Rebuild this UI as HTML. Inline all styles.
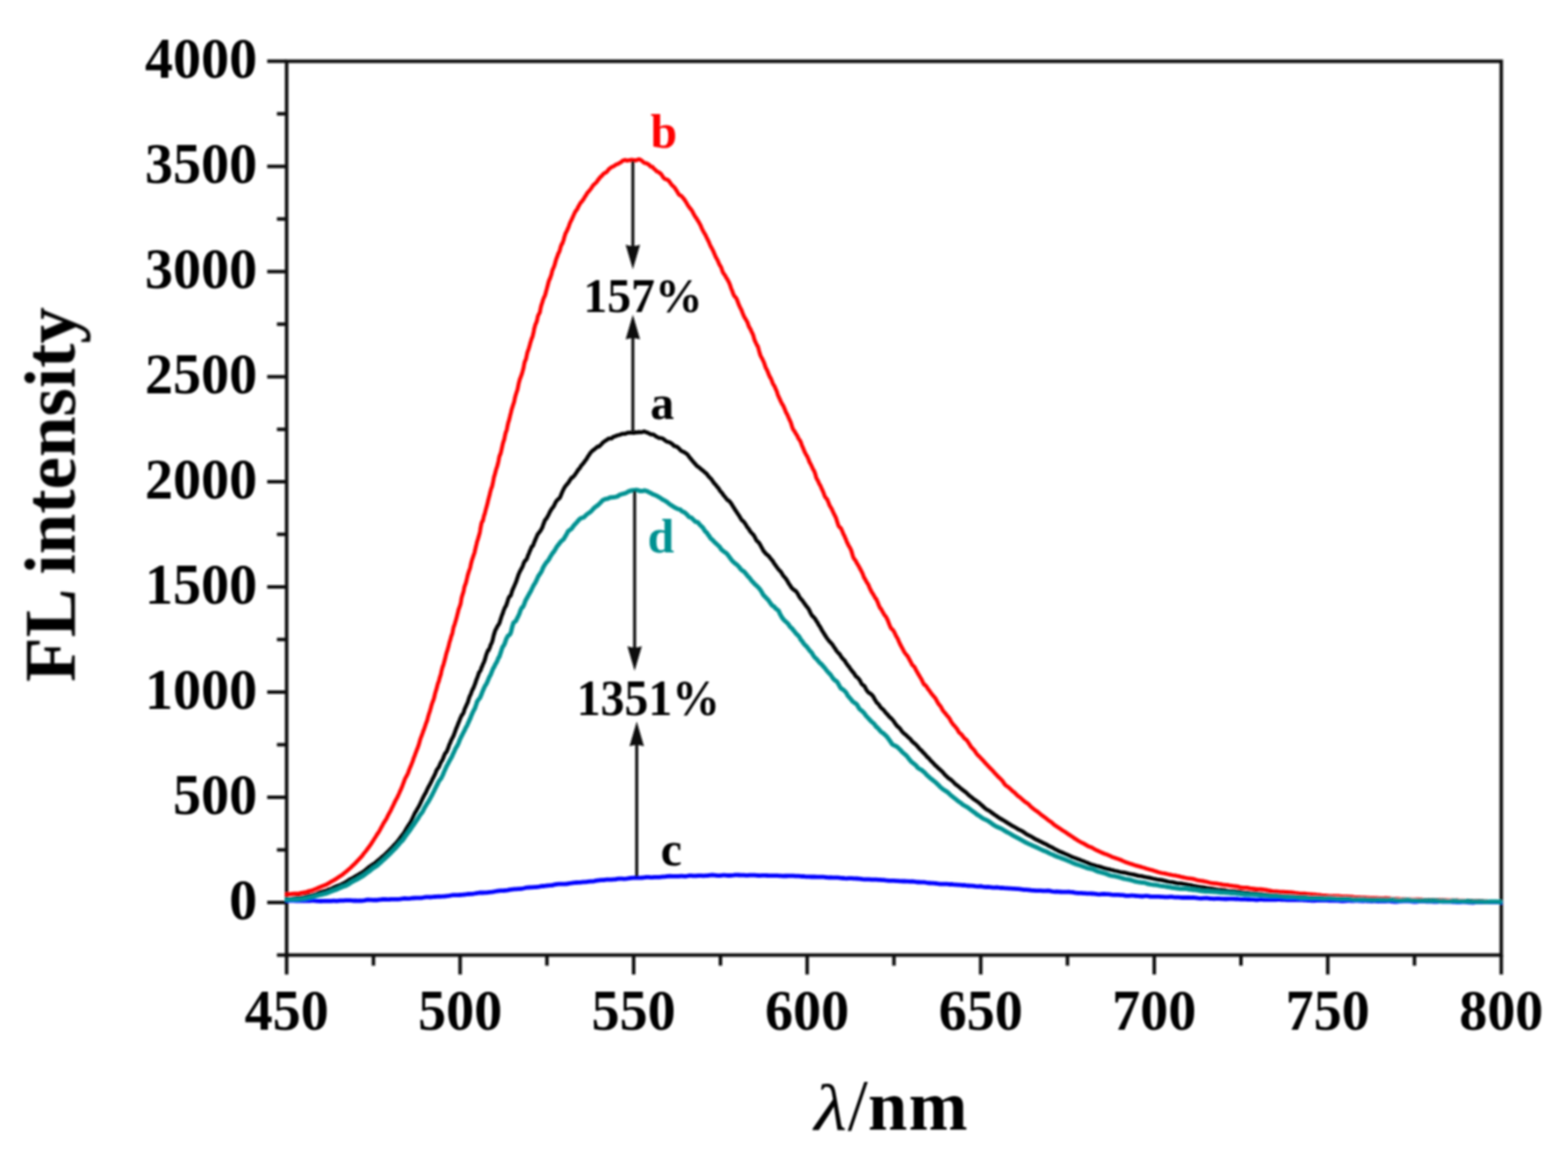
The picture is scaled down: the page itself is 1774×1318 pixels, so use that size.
<!DOCTYPE html>
<html><head><meta charset="utf-8"><title>FL intensity spectra</title>
<style>html,body{margin:0;padding:0;background:#fff;}svg{display:block;}</style>
</head><body>
<svg width="1774" height="1318" viewBox="0 0 1774 1318">
<defs><filter id="soft" filterUnits="userSpaceOnUse" x="0" y="0" width="1774" height="1318"><feGaussianBlur stdDeviation="0.8"/></filter></defs>
<rect width="1774" height="1318" fill="#fff"/>
<g filter="url(#soft)">
<rect x="324.3" y="69.3" width="1374.2" height="1011.2" fill="none" stroke="#111" stroke-width="4"/>
<path d="M313.3,1080.5H324.3 M302.3,1021.0H324.3 M313.3,961.5H324.3 M302.3,902.0H324.3 M313.3,842.6H324.3 M302.3,783.1H324.3 M313.3,723.6H324.3 M302.3,664.1H324.3 M313.3,604.6H324.3 M302.3,545.1H324.3 M313.3,485.7H324.3 M302.3,426.2H324.3 M313.3,366.7H324.3 M302.3,307.2H324.3 M313.3,247.7H324.3 M302.3,188.3H324.3 M313.3,128.8H324.3 M302.3,69.3H324.3 M324.3,1080.5V1102.5 M422.5,1080.5V1092.5 M520.6,1080.5V1102.5 M618.8,1080.5V1092.5 M716.9,1080.5V1102.5 M815.1,1080.5V1092.5 M913.2,1080.5V1102.5 M1011.4,1080.5V1092.5 M1109.6,1080.5V1102.5 M1207.7,1080.5V1092.5 M1305.9,1080.5V1102.5 M1404.0,1080.5V1092.5 M1502.2,1080.5V1102.5 M1600.3,1080.5V1092.5 M1698.5,1080.5V1102.5" stroke="#111" stroke-width="4" fill="none"/>
<g font-family="Liberation Serif, serif" font-weight="bold" font-size="63.5" fill="#000"><text transform="translate(291,1039.6) scale(1,1.045)" text-anchor="end">0</text><text transform="translate(291,920.6) scale(1,1.045)" text-anchor="end">500</text><text transform="translate(291,801.7) scale(1,1.045)" text-anchor="end">1000</text><text transform="translate(291,682.7) scale(1,1.045)" text-anchor="end">1500</text><text transform="translate(291,563.8) scale(1,1.045)" text-anchor="end">2000</text><text transform="translate(291,444.8) scale(1,1.045)" text-anchor="end">2500</text><text transform="translate(291,325.8) scale(1,1.045)" text-anchor="end">3000</text><text transform="translate(291,206.9) scale(1,1.045)" text-anchor="end">3500</text><text transform="translate(291,87.9) scale(1,1.045)" text-anchor="end">4000</text><text transform="translate(324.3,1165) scale(1,1.045)" text-anchor="middle">450</text><text transform="translate(520.6,1165) scale(1,1.045)" text-anchor="middle">500</text><text transform="translate(716.9,1165) scale(1,1.045)" text-anchor="middle">550</text><text transform="translate(913.2,1165) scale(1,1.045)" text-anchor="middle">600</text><text transform="translate(1109.6,1165) scale(1,1.045)" text-anchor="middle">650</text><text transform="translate(1305.9,1165) scale(1,1.045)" text-anchor="middle">700</text><text transform="translate(1502.2,1165) scale(1,1.045)" text-anchor="middle">750</text><text transform="translate(1698.5,1165) scale(1,1.045)" text-anchor="middle">800</text></g>
<text transform="translate(84.5,771.5) rotate(-90)" font-family="Liberation Serif, serif" font-weight="bold" font-size="82.5" fill="#000">FL intensity</text>
<g font-family="Liberation Serif, serif" fill="#000"><text transform="translate(921.2,1277.5) scale(1.15,1)" font-style="italic" font-size="74">λ</text><text x="959" y="1277.5" font-size="82">/</text><text x="982" y="1277.5" font-weight="bold" font-size="80">n</text><text x="1028" y="1277.5" font-weight="bold" font-size="80">m</text></g>
<g fill="none" stroke-width="4.5" stroke-linejoin="round" stroke-linecap="round"><path d="M324.2,1011.8 L326.3,1011.7 L328.4,1011.5 L330.5,1011.3 L332.6,1011.1 L334.6,1011.0 L336.7,1010.9 L338.7,1010.7 L340.7,1010.3 L342.7,1009.9 L344.7,1009.5 L346.7,1009.1 L348.6,1008.5 L350.6,1007.9 L352.5,1007.4 L354.4,1006.8 L356.3,1006.0 L358.2,1005.2 L360.1,1004.3 L361.9,1003.6 L363.8,1002.8 L365.6,1002.2 L367.4,1001.4 L369.2,1000.8 L370.9,999.8 L372.7,998.8 L374.4,997.6 L376.1,996.7 L377.8,995.8 L379.5,994.8 L381.2,993.6 L382.8,992.5 L384.5,991.4 L386.1,990.3 L387.7,989.3 L389.2,988.0 L390.8,986.8 L392.3,985.6 L393.8,984.2 L395.3,982.9 L396.8,981.6 L398.2,980.2 L399.6,978.8 L401.1,977.5 L402.4,976.2 L403.8,974.6 L405.2,973.2 L406.5,971.8 L407.8,970.4 L409.1,969.0 L410.4,967.4 L411.6,965.6 L412.9,964.1 L414.1,962.6 L415.3,961.0 L416.5,959.5 L417.6,957.9 L418.8,956.3 L419.9,954.7 L421.1,952.8 L422.2,951.1 L423.3,949.3 L424.4,947.6 L425.5,945.8 L426.5,944.2 L427.6,942.7 L428.6,941.1 L429.7,939.4 L430.7,937.3 L431.7,935.5 L432.7,933.8 L433.7,931.8 L434.7,930.3 L435.6,928.7 L436.6,927.3 L437.6,925.5 L438.5,923.5 L439.5,921.6 L440.4,919.9 L441.3,918.4 L442.3,916.4 L443.2,914.6 L444.1,912.8 L445.0,910.9 L445.9,909.0 L446.8,907.0 L447.6,905.4 L448.5,903.8 L449.4,902.3 L450.2,900.5 L451.1,898.6 L451.9,896.8 L452.7,894.8 L453.6,893.2 L454.4,891.2 L455.2,889.3 L456.0,887.0 L456.8,885.1 L457.6,882.7 L458.4,880.8 L459.2,879.3 L460.0,877.9 L460.7,876.5 L461.5,875.0 L462.3,872.7 L463.0,870.7 L463.8,868.9 L464.5,867.2 L465.3,865.3 L466.0,863.5 L466.7,861.7 L467.4,859.7 L468.1,857.5 L468.9,855.6 L469.6,853.7 L470.3,851.7 L471.0,850.1 L471.6,848.2 L472.3,846.8 L473.0,844.8 L473.7,842.8 L474.4,840.4 L475.0,838.2 L475.7,835.9 L476.3,834.1 L477.0,832.6 L477.7,830.4 L478.3,829.1 L478.9,826.8 L479.6,825.6 L480.2,823.6 L480.8,822.0 L481.5,819.9 L482.1,818.0 L482.7,816.8 L483.3,815.1 L483.9,812.8 L484.5,810.3 L485.1,808.3 L485.7,806.3 L486.3,804.9 L486.9,802.6 L487.5,800.6 L488.1,798.2 L488.7,796.4 L489.3,794.6 L489.8,793.6 L490.4,791.7 L491.0,790.0 L491.6,787.6 L492.1,785.2 L492.7,783.2 L493.3,781.2 L493.8,779.5 L494.4,777.4 L494.9,775.2 L495.5,773.2 L496.0,771.7 L496.6,770.5 L497.1,768.1 L497.7,766.2 L498.2,764.5 L498.8,762.9 L499.3,760.1 L499.8,758.0 L500.4,755.8 L500.9,753.9 L501.5,752.8 L502.0,751.0 L502.5,749.2 L503.1,746.9 L503.6,745.2 L504.1,742.9 L504.6,740.8 L505.2,738.6 L505.7,736.9 L506.2,735.9 L506.7,733.8 L507.3,732.0 L507.8,729.7 L508.3,727.8 L508.8,725.8 L509.4,724.2 L509.9,722.2 L510.4,720.4 L510.9,718.8 L511.5,717.5 L512.0,715.4 L512.5,712.9 L513.0,710.3 L513.6,708.3 L514.1,707.2 L514.6,705.6 L515.1,703.7 L515.7,701.9 L516.2,700.2 L516.7,698.3 L517.2,696.3 L517.8,693.8 L518.3,692.1 L518.8,689.5 L519.4,688.3 L519.9,686.6 L520.4,685.3 L521.0,683.6 L521.5,680.9 L522.0,677.6 L522.6,675.0 L523.1,673.6 L523.6,671.7 L524.2,670.1 L524.7,667.9 L525.2,665.1 L525.8,662.9 L526.3,661.8 L526.8,660.3 L527.4,658.5 L527.9,656.2 L528.5,653.8 L529.0,651.5 L529.5,649.7 L530.1,647.8 L530.6,646.0 L531.1,644.9 L531.7,643.1 L532.2,641.2 L532.7,638.6 L533.3,636.4 L533.8,634.3 L534.3,632.6 L534.9,631.2 L535.4,629.3 L535.9,628.2 L536.4,626.5 L537.0,625.0 L537.5,622.1 L538.0,620.5 L538.5,617.9 L539.1,615.8 L539.6,613.4 L540.1,611.8 L540.6,610.5 L541.1,608.6 L541.7,606.8 L542.2,604.8 L542.7,603.0 L543.2,600.3 L543.7,597.2 L544.2,594.7 L544.7,592.2 L545.3,590.4 L545.8,589.9 L546.3,589.2 L546.8,587.1 L547.3,584.7 L547.8,582.8 L548.3,581.7 L548.8,579.8 L549.3,577.8 L549.8,575.8 L550.3,574.0 L550.8,572.4 L551.3,570.3 L551.9,568.1 L552.4,565.5 L552.9,564.0 L553.4,561.8 L553.9,560.3 L554.4,557.6 L554.9,555.8 L555.4,554.0 L555.9,552.3 L556.4,551.5 L556.9,549.7 L557.4,547.3 L557.9,545.0 L558.4,542.4 L558.9,539.6 L559.4,538.3 L559.9,536.5 L560.4,534.7 L560.9,532.4 L561.4,530.8 L561.9,529.3 L562.4,528.0 L562.9,526.1 L563.4,524.1 L563.9,522.2 L564.4,519.3 L564.9,517.1 L565.4,515.0 L565.9,514.5 L566.4,513.0 L566.9,511.2 L567.4,508.8 L567.9,506.5 L568.4,504.2 L568.9,502.0 L569.4,500.3 L569.9,498.8 L570.4,497.4 L570.9,495.1 L571.4,492.6 L571.9,490.3 L572.4,488.6 L573.0,487.5 L573.5,485.4 L574.0,483.0 L574.5,480.4 L575.0,478.3 L575.5,476.8 L576.0,475.3 L576.5,473.1 L577.0,471.1 L577.5,468.8 L578.1,466.8 L578.6,464.3 L579.1,462.8 L579.6,460.9 L580.1,459.7 L580.6,457.8 L581.1,456.4 L581.7,454.6 L582.2,452.1 L582.7,449.8 L583.2,447.8 L583.8,445.9 L584.3,444.1 L584.8,442.8 L585.3,441.4 L585.9,438.7 L586.4,436.3 L586.9,433.7 L587.4,431.9 L588.0,429.7 L588.5,428.0 L589.0,427.0 L589.6,425.1 L590.1,424.0 L590.6,422.3 L591.2,420.3 L591.7,418.4 L592.3,416.5 L592.8,413.5 L593.3,410.9 L593.9,408.7 L594.4,407.7 L595.0,406.5 L595.5,404.3 L596.1,401.4 L596.6,399.1 L597.2,397.3 L597.7,395.9 L598.3,394.1 L598.8,392.3 L599.4,390.3 L599.9,388.3 L600.5,386.4 L601.0,384.6 L601.6,383.0 L602.2,381.6 L602.7,380.1 L603.3,377.5 L603.9,374.9 L604.4,371.9 L605.0,370.0 L605.6,367.5 L606.1,366.2 L606.7,365.3 L607.3,363.5 L607.9,361.1 L608.4,358.3 L609.0,356.7 L609.6,355.4 L610.2,354.6 L610.8,353.3 L611.3,350.4 L611.9,347.6 L612.5,345.2 L613.1,343.5 L613.7,341.7 L614.3,339.5 L614.9,338.0 L615.5,336.3 L616.1,335.5 L616.7,333.8 L617.3,331.9 L617.9,329.3 L618.5,327.3 L619.1,325.0 L619.7,322.8 L620.3,320.4 L620.9,318.2 L621.5,316.5 L622.1,315.5 L622.7,313.9 L623.3,312.1 L624.0,310.0 L624.6,307.1 L625.2,305.4 L625.8,303.9 L626.4,302.6 L627.1,300.7 L627.7,299.0 L628.3,296.6 L629.0,294.2 L629.6,292.4 L630.2,290.9 L630.9,289.2 L631.5,286.9 L632.2,286.1 L632.9,284.4 L633.5,282.7 L634.2,279.8 L634.9,277.9 L635.6,276.0 L636.3,275.6 L637.0,273.2 L637.7,271.6 L638.4,268.5 L639.1,266.4 L639.8,264.0 L640.6,262.6 L641.3,261.4 L642.1,259.4 L642.8,258.1 L643.6,255.9 L644.4,253.5 L645.2,251.6 L646.1,249.8 L646.9,248.2 L647.7,246.3 L648.6,244.3 L649.5,242.4 L650.4,240.4 L651.3,238.9 L652.2,237.6 L653.2,236.3 L654.2,234.0 L655.2,232.3 L656.2,230.5 L657.2,229.0 L658.3,228.1 L659.3,226.3 L660.4,225.2 L661.5,222.9 L662.7,221.3 L663.8,219.3 L665.0,217.7 L666.2,216.5 L667.4,214.9 L668.7,213.4 L669.9,211.4 L671.2,209.5 L672.5,208.3 L673.8,207.1 L675.2,205.9 L676.5,203.6 L677.9,202.1 L679.3,200.1 L680.8,199.1 L682.2,197.2 L683.7,196.0 L685.2,195.2 L686.7,194.3 L688.2,192.2 L689.7,190.7 L691.3,189.5 L692.9,188.6 L694.5,188.0 L696.1,186.8 L697.7,185.9 L699.3,185.4 L701.0,184.3 L702.7,183.5 L704.3,181.9 L706.0,181.3 L707.7,180.9 L709.4,181.8 L711.1,181.3 L712.8,181.2 L714.5,180.8 L716.2,181.1 L717.9,181.2 L719.6,181.6 L721.3,180.6 L723.0,180.2 L724.7,180.8 L726.4,182.0 L728.1,183.7 L729.8,184.6 L731.5,184.8 L733.1,185.7 L734.8,186.9 L736.4,188.6 L738.1,188.7 L739.7,190.8 L741.3,191.8 L742.9,193.8 L744.5,194.3 L746.0,195.5 L747.6,196.5 L749.1,198.6 L750.6,201.0 L752.1,202.3 L753.6,202.8 L755.1,203.4 L756.5,204.4 L758.0,206.4 L759.3,208.3 L760.7,209.9 L762.1,211.2 L763.4,212.4 L764.7,214.4 L766.0,216.5 L767.3,218.8 L768.5,220.4 L769.7,221.0 L771.0,221.8 L772.1,223.1 L773.3,224.5 L774.5,226.0 L775.6,227.8 L776.7,229.4 L777.8,231.6 L778.9,233.2 L780.0,234.8 L781.0,236.0 L782.1,237.3 L783.1,238.7 L784.1,240.7 L785.1,242.6 L786.1,244.4 L787.1,246.0 L788.1,247.1 L789.0,248.9 L790.0,250.3 L791.0,252.0 L791.9,253.7 L792.8,255.3 L793.8,257.8 L794.7,259.8 L795.6,261.6 L796.5,263.1 L797.4,264.6 L798.3,266.2 L799.2,268.2 L800.1,269.9 L801.0,271.9 L801.9,273.5 L802.8,275.8 L803.6,277.6 L804.5,279.5 L805.4,280.9 L806.3,282.9 L807.1,284.2 L808.0,286.7 L808.9,288.7 L809.7,290.6 L810.6,292.2 L811.5,293.7 L812.4,295.6 L813.2,297.8 L814.1,299.5 L815.0,301.0 L815.9,302.4 L816.8,305.1 L817.6,307.4 L818.5,309.2 L819.4,310.4 L820.3,311.4 L821.2,313.4 L822.0,314.7 L822.9,315.8 L823.8,317.9 L824.7,319.3 L825.6,321.5 L826.4,323.8 L827.3,326.6 L828.2,328.5 L829.0,330.9 L829.9,333.3 L830.8,335.0 L831.7,335.8 L832.5,336.7 L833.4,338.0 L834.2,340.1 L835.1,342.6 L835.9,344.8 L836.8,346.6 L837.6,348.5 L838.5,349.8 L839.3,351.8 L840.1,354.1 L841.0,356.2 L841.8,358.1 L842.6,359.5 L843.4,360.7 L844.2,362.1 L845.0,363.4 L845.8,365.0 L846.6,367.7 L847.4,369.5 L848.2,371.2 L849.0,372.2 L849.8,374.2 L850.6,375.7 L851.3,377.3 L852.1,378.9 L852.9,381.8 L853.6,384.4 L854.4,386.3 L855.2,387.9 L855.9,389.4 L856.7,391.0 L857.4,391.9 L858.2,394.6 L858.9,397.3 L859.7,400.0 L860.4,402.3 L861.2,403.8 L862.0,405.2 L862.7,406.6 L863.5,408.3 L864.2,409.7 L865.0,412.0 L865.7,414.3 L866.5,416.5 L867.3,417.6 L868.0,419.2 L868.8,421.0 L869.6,423.4 L870.4,424.9 L871.1,426.8 L871.9,427.6 L872.7,429.5 L873.5,431.5 L874.3,433.8 L875.1,435.3 L875.9,436.2 L876.7,437.9 L877.5,439.8 L878.3,441.6 L879.1,443.5 L879.9,446.3 L880.8,448.3 L881.6,450.3 L882.4,451.7 L883.2,453.9 L884.1,455.4 L884.9,457.3 L885.8,458.3 L886.6,459.9 L887.4,462.0 L888.3,463.9 L889.1,466.2 L890.0,467.8 L890.8,469.2 L891.7,471.3 L892.5,473.1 L893.4,475.3 L894.2,476.8 L895.1,479.1 L895.9,482.0 L896.8,484.6 L897.7,486.3 L898.5,487.3 L899.4,488.7 L900.2,490.4 L901.1,491.6 L902.0,493.0 L902.8,494.9 L903.7,496.6 L904.6,497.7 L905.4,499.0 L906.3,501.0 L907.1,503.6 L908.0,505.5 L908.9,507.7 L909.7,509.7 L910.6,511.8 L911.4,513.3 L912.3,515.0 L913.2,516.2 L914.0,518.1 L914.9,520.0 L915.7,522.5 L916.6,524.0 L917.4,525.5 L918.3,527.4 L919.1,529.2 L920.0,531.1 L920.8,532.1 L921.7,534.3 L922.6,537.0 L923.4,540.2 L924.2,541.8 L925.1,543.4 L925.9,545.2 L926.8,547.2 L927.6,548.4 L928.5,550.0 L929.3,552.2 L930.2,553.9 L931.0,555.8 L931.8,557.6 L932.7,560.3 L933.5,562.2 L934.4,563.2 L935.2,564.3 L936.0,565.1 L936.9,567.5 L937.7,569.4 L938.5,571.7 L939.4,573.2 L940.2,574.5 L941.0,575.7 L941.9,577.9 L942.7,579.5 L943.5,581.5 L944.4,582.9 L945.2,584.8 L946.0,586.3 L946.9,589.5 L947.7,591.9 L948.5,594.4 L949.4,596.0 L950.2,596.6 L951.0,597.1 L951.9,598.6 L952.7,600.5 L953.6,602.7 L954.4,604.7 L955.3,606.0 L956.1,608.3 L957.0,609.9 L957.8,612.4 L958.7,614.2 L959.5,616.0 L960.4,617.7 L961.3,619.1 L962.1,620.7 L963.0,622.5 L963.9,625.5 L964.8,628.7 L965.7,631.1 L966.5,632.4 L967.4,633.6 L968.3,634.7 L969.2,636.8 L970.1,638.0 L971.0,639.7 L971.9,641.1 L972.8,643.0 L973.7,644.5 L974.6,646.2 L975.5,648.0 L976.5,650.4 L977.4,653.1 L978.3,654.4 L979.2,656.1 L980.1,657.7 L981.0,659.4 L982.0,660.6 L982.9,662.7 L983.8,664.9 L984.7,666.9 L985.7,668.7 L986.6,670.6 L987.5,671.6 L988.5,673.5 L989.4,674.9 L990.3,676.9 L991.3,677.5 L992.2,679.6 L993.1,681.6 L994.1,684.4 L995.0,686.3 L995.9,688.2 L996.9,688.9 L997.8,690.9 L998.7,692.4 L999.7,694.1 L1000.6,695.7 L1001.5,696.7 L1002.5,697.9 L1003.4,699.9 L1004.4,701.7 L1005.3,704.2 L1006.3,706.8 L1007.2,709.0 L1008.2,710.9 L1009.1,711.7 L1010.1,712.5 L1011.0,713.9 L1012.0,715.7 L1012.9,717.7 L1013.9,719.8 L1014.9,721.3 L1015.8,722.8 L1016.8,725.4 L1017.8,727.4 L1018.7,729.5 L1019.7,731.2 L1020.7,733.2 L1021.7,734.9 L1022.7,737.0 L1023.7,738.5 L1024.7,739.9 L1025.7,741.1 L1026.7,742.1 L1027.7,744.0 L1028.7,745.7 L1029.7,747.8 L1030.7,749.4 L1031.8,751.8 L1032.8,752.8 L1033.8,753.7 L1034.9,755.0 L1035.9,757.1 L1037.0,759.2 L1038.0,760.9 L1039.1,762.9 L1040.2,764.5 L1041.2,766.5 L1042.3,768.0 L1043.4,770.4 L1044.5,772.7 L1045.6,774.7 L1046.7,775.0 L1047.8,776.3 L1048.9,777.6 L1050.0,779.7 L1051.2,780.9 L1052.3,782.6 L1053.4,784.2 L1054.6,785.6 L1055.7,787.0 L1056.9,788.4 L1058.1,789.7 L1059.2,791.7 L1060.4,793.9 L1061.6,796.0 L1062.8,797.5 L1064.0,798.8 L1065.2,800.9 L1066.4,803.2 L1067.6,804.9 L1068.8,806.3 L1070.0,807.6 L1071.2,809.3 L1072.4,810.5 L1073.7,812.1 L1074.9,814.0 L1076.1,816.5 L1077.4,818.2 L1078.6,820.0 L1079.8,821.0 L1081.1,822.7 L1082.3,824.1 L1083.6,826.1 L1084.8,828.3 L1086.1,829.5 L1087.4,830.5 L1088.6,832.0 L1089.9,833.7 L1091.1,835.3 L1092.4,836.2 L1093.7,837.3 L1094.9,839.1 L1096.2,841.1 L1097.5,843.0 L1098.7,845.0 L1100.0,846.3 L1101.3,847.7 L1102.5,849.0 L1103.8,851.1 L1105.1,853.0 L1106.4,854.3 L1107.7,855.6 L1109.0,856.8 L1110.3,858.4 L1111.5,859.4 L1112.8,861.0 L1114.1,862.5 L1115.5,864.1 L1116.8,865.3 L1118.1,866.8 L1119.4,868.1 L1120.7,869.5 L1122.1,870.8 L1123.4,872.2 L1124.8,873.8 L1126.1,875.4 L1127.5,876.7 L1128.8,878.1 L1130.2,879.6 L1131.6,880.7 L1133.0,882.3 L1134.4,883.8 L1135.8,886.0 L1137.2,887.8 L1138.6,889.1 L1140.0,889.9 L1141.5,891.1 L1142.9,892.4 L1144.4,893.7 L1145.8,895.2 L1147.3,896.1 L1148.8,897.8 L1150.3,899.1 L1151.8,900.6 L1153.3,901.6 L1154.8,902.8 L1156.3,904.2 L1157.8,905.6 L1159.3,906.8 L1160.9,907.9 L1162.4,908.9 L1163.9,910.0 L1165.5,911.8 L1167.0,913.2 L1168.6,914.5 L1170.1,915.7 L1171.7,916.9 L1173.3,917.9 L1174.9,919.1 L1176.4,920.4 L1178.0,921.8 L1179.6,922.8 L1181.2,924.2 L1182.8,925.2 L1184.3,926.4 L1185.9,927.8 L1187.5,928.8 L1189.1,929.9 L1190.7,931.3 L1192.3,932.7 L1193.9,934.0 L1195.6,935.0 L1197.2,936.1 L1198.8,937.2 L1200.4,938.2 L1202.0,939.4 L1203.7,940.4 L1205.3,941.4 L1207.0,942.5 L1208.6,943.7 L1210.3,944.7 L1211.9,945.8 L1213.6,946.9 L1215.3,948.2 L1217.0,949.2 L1218.7,950.3 L1220.3,951.4 L1222.1,952.4 L1223.8,953.4 L1225.5,954.0 L1227.2,955.0 L1228.9,956.0 L1230.7,957.1 L1232.4,957.8 L1234.2,958.4 L1235.9,959.2 L1237.7,960.3 L1239.4,961.3 L1241.2,962.2 L1243.0,962.9 L1244.8,963.8 L1246.6,964.6 L1248.3,965.3 L1250.1,966.1 L1252.0,966.6 L1253.8,967.5 L1255.6,968.2 L1257.4,969.1 L1259.2,969.8 L1261.1,970.4 L1262.9,971.2 L1264.7,971.7 L1266.6,972.4 L1268.4,973.0 L1270.3,974.0 L1272.1,974.8 L1274.0,975.6 L1275.9,976.2 L1277.7,976.8 L1279.6,977.4 L1281.5,978.0 L1283.4,978.7 L1285.3,979.3 L1287.2,979.7 L1289.1,980.3 L1291.0,980.8 L1292.9,981.4 L1294.8,981.9 L1296.7,982.6 L1298.6,983.1 L1300.5,983.7 L1302.4,984.1 L1304.3,984.7 L1306.3,985.3 L1308.2,985.9 L1310.1,986.6 L1312.1,987.1 L1314.0,987.6 L1315.9,987.9 L1317.9,988.2 L1319.8,988.6 L1321.8,989.1 L1323.7,989.5 L1325.7,989.9 L1327.6,990.2 L1329.6,990.4 L1331.5,990.9 L1333.5,991.2 L1335.4,991.9 L1337.4,992.3 L1339.4,992.7 L1341.3,993.1 L1343.3,993.5 L1345.3,993.7 L1347.2,993.9 L1349.2,994.3 L1351.2,994.7 L1353.1,995.3 L1355.1,996.0 L1357.1,996.2 L1359.0,996.6 L1361.0,996.8 L1363.0,997.3 L1365.0,997.6 L1366.9,998.1 L1368.9,998.6 L1370.9,999.0 L1372.9,999.2 L1374.8,999.4 L1376.8,999.6 L1378.8,1000.0 L1380.8,1000.3 L1382.8,1000.8 L1384.7,1001.0 L1386.7,1001.3 L1388.7,1001.3 L1390.7,1001.7 L1392.7,1002.0 L1394.6,1002.3 L1396.6,1002.4 L1398.6,1002.7 L1400.6,1003.0 L1402.6,1003.6 L1404.5,1004.1 L1406.5,1004.2 L1408.5,1004.2 L1410.5,1004.3 L1412.5,1004.6 L1414.5,1005.0 L1416.5,1005.2 L1418.4,1005.5 L1420.4,1005.8 L1422.4,1006.1 L1424.4,1006.1 L1426.4,1006.1 L1428.4,1006.2 L1430.4,1006.5 L1432.3,1006.7 L1434.3,1007.2 L1436.3,1007.5 L1438.3,1008.0 L1440.3,1008.3 L1442.3,1008.5 L1444.3,1008.5 L1446.3,1008.7 L1448.3,1008.9 L1450.2,1008.9 L1452.2,1009.0 L1454.2,1009.2 L1456.2,1009.3 L1458.2,1009.6 L1460.2,1009.5 L1462.2,1009.8 L1464.2,1010.1 L1466.2,1010.4 L1468.2,1010.6 L1470.2,1010.9 L1472.2,1011.0 L1474.2,1011.1 L1476.1,1011.0 L1478.1,1011.3 L1480.1,1011.4 L1482.1,1011.7 L1484.1,1011.8 L1486.1,1011.9 L1488.1,1012.1 L1490.1,1012.4 L1492.1,1012.6 L1494.1,1012.8 L1496.1,1013.2 L1498.1,1013.3 L1500.1,1013.2 L1502.1,1013.4 L1504.1,1013.7 L1506.1,1013.8 L1508.1,1013.7 L1510.1,1013.7 L1512.1,1013.7 L1514.1,1013.8 L1516.1,1014.0 L1518.1,1014.2 L1520.1,1014.2 L1522.1,1014.2 L1524.1,1014.2 L1526.1,1014.4 L1528.0,1014.6 L1530.0,1014.8 L1532.0,1015.1 L1534.0,1015.2 L1536.0,1015.3 L1538.0,1015.3 L1540.0,1015.4 L1542.0,1015.4 L1544.0,1015.5 L1546.0,1015.7 L1548.0,1015.7 L1550.0,1015.9 L1552.0,1015.9 L1554.0,1015.9 L1556.0,1015.9 L1558.0,1016.0 L1560.0,1016.2 L1562.0,1016.2 L1564.0,1016.4 L1566.0,1016.2 L1568.0,1016.1 L1570.0,1016.2 L1572.0,1016.3 L1574.0,1016.7 L1576.0,1016.9 L1578.0,1017.0 L1580.0,1016.9 L1582.0,1017.0 L1584.0,1017.3 L1586.0,1017.4 L1588.0,1017.5 L1590.0,1017.7 L1592.0,1018.0 L1594.0,1017.9 L1596.0,1017.8 L1598.0,1017.7 L1600.0,1017.7 L1602.0,1017.6 L1604.0,1017.6 L1606.0,1017.7 L1608.0,1017.7 L1610.0,1018.0 L1612.0,1018.2 L1614.0,1018.4 L1616.0,1018.2 L1618.0,1018.2 L1620.0,1018.3 L1622.0,1018.4 L1624.0,1018.5 L1626.0,1018.3 L1628.0,1018.2 L1630.0,1018.2 L1632.0,1018.4 L1634.0,1018.6 L1636.0,1018.6 L1638.0,1018.6 L1640.0,1018.7 L1642.0,1018.8 L1644.0,1019.0 L1646.0,1018.9 L1648.0,1018.8 L1650.0,1018.8 L1652.0,1018.9 L1654.0,1019.1 L1656.0,1019.0 L1658.0,1019.2 L1660.0,1019.2 L1662.0,1019.3 L1664.0,1019.3 L1666.0,1019.5 L1668.0,1019.5 L1670.0,1019.5 L1672.0,1019.4 L1674.0,1019.5 L1676.0,1019.6 L1678.0,1019.8 L1680.0,1020.0 L1682.0,1020.1 L1684.0,1020.2 L1686.0,1020.2 L1688.0,1020.4 L1690.0,1020.6 L1692.0,1020.7 L1694.0,1020.7 L1696.0,1020.5 L1698.0,1020.5" stroke="#ff0000"/><path d="M324.4,1017.3 L326.5,1017.0 L328.6,1016.8 L330.7,1016.4 L332.8,1016.1 L334.8,1015.7 L336.9,1015.5 L338.9,1015.4 L340.9,1015.3 L342.9,1014.9 L344.9,1014.4 L346.9,1013.9 L348.8,1013.4 L350.8,1013.0 L352.7,1012.6 L354.6,1012.3 L356.5,1011.8 L358.4,1011.0 L360.3,1010.1 L362.2,1009.4 L364.0,1008.8 L365.9,1008.4 L367.7,1008.0 L369.6,1007.3 L371.4,1006.5 L373.2,1006.0 L375.0,1005.3 L376.8,1004.4 L378.6,1003.6 L380.4,1002.8 L382.2,1002.1 L383.9,1001.5 L385.7,1000.8 L387.4,1000.0 L389.2,999.1 L390.9,998.1 L392.7,997.0 L394.4,995.8 L396.1,994.8 L397.8,993.9 L399.6,993.0 L401.3,992.0 L403.0,990.9 L404.7,989.9 L406.4,989.0 L408.1,987.9 L409.8,986.9 L411.5,985.8 L413.2,984.5 L414.8,983.1 L416.5,981.6 L418.2,980.5 L419.8,979.3 L421.4,978.2 L423.1,977.2 L424.7,976.0 L426.3,974.6 L427.9,973.3 L429.4,972.1 L431.0,970.6 L432.5,969.2 L434.1,967.9 L435.6,966.6 L437.1,965.2 L438.5,963.8 L440.0,962.3 L441.4,960.8 L442.8,959.5 L444.2,958.1 L445.5,956.5 L446.9,955.2 L448.2,953.7 L449.5,952.4 L450.7,950.6 L451.9,949.1 L453.1,947.4 L454.3,945.8 L455.4,944.3 L456.6,942.8 L457.7,941.2 L458.7,939.3 L459.8,937.5 L460.8,935.8 L461.8,934.3 L462.8,932.8 L463.8,931.3 L464.8,929.6 L465.7,927.9 L466.6,926.1 L467.6,924.0 L468.5,921.7 L469.4,919.9 L470.3,918.3 L471.2,917.1 L472.1,915.3 L473.0,913.9 L473.9,912.2 L474.8,910.7 L475.7,908.7 L476.6,906.6 L477.5,904.7 L478.4,902.8 L479.3,901.1 L480.2,899.3 L481.2,897.6 L482.1,896.0 L483.0,893.7 L483.9,892.0 L484.8,890.2 L485.7,888.7 L486.6,887.2 L487.5,885.2 L488.4,883.5 L489.3,881.3 L490.2,879.9 L491.1,877.9 L492.0,876.2 L492.9,874.0 L493.8,871.6 L494.7,870.2 L495.6,869.0 L496.5,867.8 L497.4,865.7 L498.3,863.7 L499.2,861.7 L500.1,860.6 L500.9,859.0 L501.8,856.6 L502.7,854.4 L503.5,852.5 L504.4,851.5 L505.3,850.5 L506.1,848.5 L507.0,846.4 L507.8,844.1 L508.6,841.8 L509.5,840.1 L510.3,837.8 L511.1,836.3 L511.9,834.7 L512.8,833.2 L513.6,831.2 L514.4,829.0 L515.2,826.7 L516.0,824.5 L516.8,822.8 L517.6,820.7 L518.4,818.7 L519.2,816.6 L520.0,814.8 L520.8,812.6 L521.6,810.9 L522.3,809.3 L523.1,808.6 L523.9,807.3 L524.7,805.8 L525.4,803.0 L526.2,801.1 L527.0,799.5 L527.7,797.8 L528.5,796.1 L529.3,794.5 L530.0,791.9 L530.8,789.4 L531.5,787.4 L532.3,786.1 L533.0,784.3 L533.8,782.0 L534.5,780.3 L535.3,779.0 L536.0,777.5 L536.7,775.6 L537.5,773.7 L538.2,771.5 L539.0,769.0 L539.7,767.4 L540.4,765.5 L541.2,763.3 L541.9,761.0 L542.6,760.1 L543.4,758.9 L544.1,757.7 L544.8,754.8 L545.6,754.0 L546.3,751.5 L547.0,750.5 L547.7,748.7 L548.5,746.6 L549.2,744.1 L549.9,741.5 L550.6,739.5 L551.4,737.5 L552.1,735.7 L552.8,735.8 L553.6,733.9 L554.3,732.4 L555.0,729.7 L555.7,728.6 L556.5,726.9 L557.2,724.8 L557.9,721.8 L558.6,718.7 L559.4,716.3 L560.1,713.8 L560.8,712.2 L561.6,711.1 L562.3,709.4 L563.0,708.3 L563.8,707.1 L564.5,706.2 L565.3,704.4 L566.0,701.9 L566.7,699.8 L567.5,697.2 L568.2,695.3 L569.0,693.5 L569.7,691.0 L570.5,689.1 L571.2,687.3 L572.0,686.2 L572.7,685.0 L573.5,682.5 L574.2,680.4 L575.0,677.7 L575.8,675.9 L576.5,674.7 L577.3,674.4 L578.1,673.2 L578.8,670.7 L579.6,668.0 L580.4,666.3 L581.2,664.3 L581.9,662.9 L582.7,661.0 L583.5,659.1 L584.3,657.1 L585.1,654.5 L585.9,652.2 L586.7,649.7 L587.5,648.2 L588.3,646.2 L589.1,645.0 L589.9,643.3 L590.8,641.9 L591.6,640.0 L592.4,637.5 L593.2,635.7 L594.1,634.4 L594.9,633.8 L595.8,632.6 L596.6,630.8 L597.4,628.2 L598.3,626.6 L599.2,623.9 L600.0,622.4 L600.9,619.9 L601.8,618.1 L602.6,617.9 L603.5,616.2 L604.4,613.6 L605.3,611.5 L606.2,609.3 L607.1,607.4 L608.0,605.2 L608.9,603.7 L609.8,602.7 L610.7,601.4 L611.7,600.3 L612.6,598.4 L613.5,597.0 L614.5,593.9 L615.4,591.6 L616.4,588.9 L617.3,587.5 L618.3,586.7 L619.2,584.8 L620.2,583.3 L621.2,581.1 L622.2,579.0 L623.2,577.3 L624.2,575.7 L625.2,574.4 L626.2,573.2 L627.2,571.4 L628.2,569.1 L629.3,567.1 L630.3,565.9 L631.4,564.9 L632.4,564.1 L633.5,563.0 L634.5,560.6 L635.6,557.9 L636.7,555.4 L637.8,553.1 L638.9,551.2 L640.0,549.6 L641.1,548.4 L642.2,547.0 L643.3,545.8 L644.5,543.7 L645.6,542.2 L646.7,540.5 L647.9,540.1 L649.1,538.7 L650.2,537.7 L651.4,535.7 L652.6,534.0 L653.8,532.0 L655.0,530.5 L656.2,529.3 L657.4,526.9 L658.6,525.8 L659.9,524.3 L661.1,522.6 L662.4,520.8 L663.7,519.1 L665.0,516.7 L666.3,515.0 L667.6,512.8 L669.0,511.3 L670.3,509.9 L671.7,509.0 L673.1,507.8 L674.5,506.7 L676.0,505.3 L677.5,505.3 L679.0,504.0 L680.5,502.5 L682.1,500.6 L683.7,499.5 L685.3,498.4 L687.0,497.3 L688.6,496.2 L690.4,496.1 L692.1,496.0 L693.9,494.1 L695.7,493.8 L697.6,492.9 L699.4,492.4 L701.3,491.9 L703.2,490.9 L705.2,490.8 L707.1,490.8 L709.1,490.0 L711.0,489.4 L713.0,489.4 L715.0,489.2 L717.0,489.8 L719.0,489.0 L720.9,489.3 L722.9,488.7 L724.9,489.1 L726.9,488.7 L728.8,488.1 L730.8,488.9 L732.7,489.5 L734.6,490.5 L736.5,491.4 L738.4,491.4 L740.3,492.1 L742.1,493.7 L743.9,494.6 L745.7,495.6 L747.5,495.6 L749.3,495.9 L751.0,497.1 L752.8,498.6 L754.5,499.6 L756.2,500.0 L757.9,500.6 L759.5,501.7 L761.2,502.9 L762.8,504.6 L764.4,504.9 L766.0,505.6 L767.6,506.8 L769.2,508.6 L770.7,510.0 L772.3,510.8 L773.8,511.4 L775.3,512.4 L776.8,513.2 L778.3,514.8 L779.8,517.0 L781.3,518.7 L782.7,520.6 L784.2,522.3 L785.6,523.9 L787.0,525.3 L788.4,527.1 L789.8,528.0 L791.2,529.0 L792.6,530.3 L794.0,531.4 L795.3,532.4 L796.7,533.7 L798.0,534.8 L799.4,535.8 L800.7,537.7 L802.0,539.2 L803.3,540.6 L804.6,541.8 L805.9,543.8 L807.2,545.6 L808.5,547.4 L809.8,548.5 L811.0,550.3 L812.3,551.6 L813.6,553.6 L814.8,555.5 L816.0,556.8 L817.3,558.3 L818.5,560.2 L819.7,561.5 L821.0,563.2 L822.2,564.6 L823.4,566.1 L824.6,566.4 L825.8,567.8 L827.0,569.2 L828.1,571.0 L829.3,572.9 L830.5,574.7 L831.7,576.8 L832.9,578.4 L834.0,580.3 L835.2,582.0 L836.3,583.6 L837.5,585.7 L838.7,587.7 L839.8,588.9 L841.0,589.8 L842.1,591.1 L843.2,592.7 L844.4,594.7 L845.5,596.5 L846.7,597.8 L847.8,599.5 L848.9,601.4 L850.1,602.6 L851.2,603.9 L852.4,604.9 L853.5,606.8 L854.6,608.9 L855.8,611.4 L856.9,612.3 L858.1,613.5 L859.2,614.8 L860.4,616.8 L861.5,619.1 L862.7,621.0 L863.8,623.4 L865.0,624.5 L866.2,626.3 L867.3,627.0 L868.5,628.2 L869.7,628.9 L870.9,630.7 L872.1,632.1 L873.3,633.7 L874.4,634.8 L875.6,637.2 L876.8,638.7 L878.0,640.4 L879.2,642.0 L880.4,643.6 L881.6,645.1 L882.9,646.2 L884.1,647.9 L885.3,650.0 L886.5,651.7 L887.7,653.0 L888.9,654.4 L890.1,656.1 L891.3,658.1 L892.5,660.3 L893.7,661.8 L894.9,664.0 L896.1,665.5 L897.3,666.5 L898.5,667.6 L899.7,668.1 L900.9,669.3 L902.1,671.0 L903.3,673.2 L904.4,675.3 L905.6,676.8 L906.8,678.4 L907.9,679.4 L909.1,681.5 L910.2,682.7 L911.4,684.6 L912.5,686.0 L913.7,687.4 L914.8,688.9 L915.9,691.0 L917.0,693.5 L918.2,695.6 L919.3,697.1 L920.4,697.9 L921.5,699.3 L922.7,700.7 L923.8,702.9 L924.9,704.2 L926.0,706.7 L927.1,707.9 L928.2,709.8 L929.3,711.8 L930.5,714.1 L931.6,715.7 L932.7,717.6 L933.8,719.1 L934.9,721.0 L936.0,722.6 L937.1,723.9 L938.2,725.6 L939.4,726.6 L940.5,727.8 L941.6,728.9 L942.7,730.6 L943.9,732.6 L945.0,733.9 L946.2,736.1 L947.3,737.4 L948.5,738.8 L949.7,739.6 L950.9,741.7 L952.1,743.7 L953.3,744.9 L954.5,746.4 L955.8,747.3 L957.0,749.9 L958.2,751.3 L959.5,753.4 L960.7,754.3 L962.0,756.7 L963.3,758.1 L964.5,759.9 L965.8,761.2 L967.0,763.0 L968.3,765.2 L969.5,765.9 L970.8,767.1 L972.0,768.6 L973.3,770.6 L974.5,773.1 L975.7,774.6 L977.0,775.4 L978.2,776.5 L979.5,779.1 L980.7,781.2 L982.0,782.8 L983.2,784.0 L984.4,784.4 L985.7,785.5 L986.9,786.6 L988.2,788.3 L989.4,790.9 L990.7,792.7 L991.9,795.0 L993.2,795.9 L994.5,797.4 L995.7,799.3 L997.0,801.0 L998.3,802.0 L999.5,803.0 L1000.8,804.7 L1002.1,806.4 L1003.4,807.6 L1004.6,808.9 L1005.9,810.6 L1007.2,811.9 L1008.5,812.9 L1009.8,814.4 L1011.1,815.9 L1012.4,818.0 L1013.7,819.8 L1015.1,821.5 L1016.4,822.7 L1017.7,823.6 L1019.1,825.5 L1020.4,827.4 L1021.7,828.9 L1023.1,830.2 L1024.5,831.1 L1025.8,832.3 L1027.2,833.8 L1028.6,834.9 L1030.0,836.1 L1031.4,838.2 L1032.8,839.4 L1034.2,840.8 L1035.6,841.7 L1037.0,843.2 L1038.4,844.8 L1039.8,846.5 L1041.3,848.2 L1042.7,849.2 L1044.1,851.0 L1045.5,852.2 L1047.0,853.9 L1048.4,855.6 L1049.8,857.1 L1051.3,858.3 L1052.7,860.3 L1054.1,861.4 L1055.6,863.1 L1057.0,864.5 L1058.4,866.2 L1059.9,867.2 L1061.3,868.8 L1062.7,869.8 L1064.2,871.4 L1065.6,872.5 L1067.0,874.1 L1068.5,875.9 L1069.9,877.3 L1071.4,878.7 L1072.8,880.1 L1074.3,881.1 L1075.7,882.0 L1077.2,883.4 L1078.6,884.6 L1080.1,886.4 L1081.6,887.7 L1083.0,888.7 L1084.5,889.8 L1086.0,891.1 L1087.5,892.4 L1089.0,893.5 L1090.5,894.8 L1092.0,895.7 L1093.6,897.2 L1095.1,898.6 L1096.6,900.0 L1098.2,901.3 L1099.7,902.4 L1101.3,903.9 L1102.9,904.9 L1104.4,905.9 L1106.0,907.0 L1107.6,908.2 L1109.2,909.7 L1110.8,911.0 L1112.4,912.5 L1114.0,914.0 L1115.6,915.3 L1117.2,916.3 L1118.9,917.1 L1120.5,918.1 L1122.1,919.5 L1123.8,920.6 L1125.4,921.9 L1127.1,922.9 L1128.7,924.1 L1130.4,925.2 L1132.1,926.2 L1133.8,927.2 L1135.4,928.1 L1137.1,929.2 L1138.8,930.2 L1140.5,931.4 L1142.2,932.3 L1143.9,933.5 L1145.6,934.4 L1147.4,935.4 L1149.1,936.4 L1150.8,937.4 L1152.5,938.5 L1154.3,939.2 L1156.0,940.0 L1157.8,941.1 L1159.5,942.3 L1161.3,943.7 L1163.0,944.5 L1164.8,945.5 L1166.6,946.3 L1168.3,947.4 L1170.1,948.5 L1171.9,949.6 L1173.7,950.3 L1175.4,951.3 L1177.2,952.1 L1179.0,953.0 L1180.8,953.9 L1182.6,954.7 L1184.4,955.6 L1186.2,956.8 L1188.1,957.7 L1189.9,958.6 L1191.7,959.5 L1193.5,960.7 L1195.3,961.6 L1197.2,962.6 L1199.0,963.4 L1200.8,964.1 L1202.7,964.9 L1204.5,965.7 L1206.4,966.5 L1208.2,967.3 L1210.1,968.2 L1211.9,969.1 L1213.8,969.8 L1215.6,970.5 L1217.5,971.2 L1219.3,971.9 L1221.2,972.5 L1223.1,973.3 L1224.9,974.0 L1226.8,974.7 L1228.7,975.5 L1230.6,976.2 L1232.4,977.2 L1234.3,977.8 L1236.2,978.4 L1238.1,978.9 L1240.0,979.6 L1241.9,980.0 L1243.7,980.5 L1245.6,981.0 L1247.5,981.6 L1249.4,982.3 L1251.3,982.7 L1253.2,983.3 L1255.1,983.5 L1257.0,984.1 L1258.9,984.4 L1260.8,985.1 L1262.7,985.4 L1264.7,985.9 L1266.6,986.4 L1268.5,986.8 L1270.4,987.0 L1272.3,987.3 L1274.2,987.6 L1276.1,988.2 L1278.1,988.6 L1280.0,989.0 L1281.9,989.3 L1283.8,989.7 L1285.8,990.2 L1287.7,990.7 L1289.6,991.1 L1291.6,991.3 L1293.5,991.7 L1295.4,992.1 L1297.4,992.5 L1299.3,992.8 L1301.2,993.2 L1303.2,993.6 L1305.1,994.1 L1307.1,994.5 L1309.0,994.9 L1311.0,995.2 L1312.9,995.5 L1314.9,995.8 L1316.8,996.3 L1318.8,996.7 L1320.7,997.2 L1322.7,997.6 L1324.6,997.9 L1326.6,998.1 L1328.5,998.5 L1330.5,999.1 L1332.5,999.4 L1334.4,999.5 L1336.4,999.6 L1338.4,999.9 L1340.3,1000.3 L1342.3,1000.6 L1344.3,1001.0 L1346.2,1001.2 L1348.2,1001.6 L1350.2,1002.1 L1352.1,1002.5 L1354.1,1002.9 L1356.1,1003.3 L1358.1,1003.6 L1360.0,1003.8 L1362.0,1004.1 L1364.0,1004.4 L1366.0,1004.8 L1368.0,1005.0 L1370.0,1005.2 L1371.9,1005.5 L1373.9,1005.9 L1375.9,1006.3 L1377.9,1006.7 L1379.9,1006.8 L1381.9,1006.8 L1383.9,1006.9 L1385.8,1007.1 L1387.8,1007.6 L1389.8,1008.0 L1391.8,1008.3 L1393.8,1008.3 L1395.8,1008.2 L1397.8,1008.4 L1399.8,1008.7 L1401.8,1008.8 L1403.8,1009.1 L1405.8,1009.4 L1407.8,1009.7 L1409.8,1009.9 L1411.8,1010.0 L1413.8,1010.3 L1415.8,1010.4 L1417.8,1010.5 L1419.8,1010.6 L1421.8,1010.8 L1423.8,1011.1 L1425.8,1011.2 L1427.8,1011.5 L1429.8,1011.8 L1431.8,1011.9 L1433.8,1012.1 L1435.8,1012.2 L1437.8,1012.6 L1439.8,1012.8 L1441.8,1012.7 L1443.8,1012.6 L1445.8,1012.9 L1447.9,1013.3 L1449.9,1013.7 L1451.9,1013.7 L1453.9,1013.8 L1455.9,1013.7 L1457.9,1013.8 L1459.9,1013.9 L1461.9,1014.1 L1463.9,1014.1 L1466.0,1014.4 L1468.0,1014.5 L1470.0,1014.4 L1472.0,1014.4 L1474.0,1014.5 L1476.0,1014.6 L1478.0,1014.7 L1480.0,1015.0 L1482.1,1015.2 L1484.1,1015.4 L1486.1,1015.6 L1488.1,1015.6 L1490.1,1015.5 L1492.1,1015.5 L1494.1,1015.5 L1496.2,1015.6 L1498.2,1015.8 L1500.2,1015.9 L1502.2,1016.1 L1504.2,1016.4 L1506.2,1016.5 L1508.2,1016.6 L1510.3,1016.6 L1512.3,1016.7 L1514.3,1016.8 L1516.3,1016.8 L1518.3,1016.9 L1520.3,1016.6 L1522.3,1016.6 L1524.3,1016.5 L1526.4,1016.8 L1528.4,1017.0 L1530.4,1017.2 L1532.4,1017.1 L1534.4,1017.0 L1536.4,1017.0 L1538.4,1017.0 L1540.5,1016.9 L1542.5,1017.1 L1544.5,1017.1 L1546.5,1017.3 L1548.5,1017.3 L1550.5,1017.3 L1552.5,1017.3 L1554.5,1017.4 L1556.5,1017.7 L1558.5,1017.7 L1560.6,1017.9 L1562.6,1017.8 L1564.6,1017.8 L1566.6,1017.8 L1568.6,1018.0 L1570.6,1018.1 L1572.6,1018.0 L1574.6,1018.0 L1576.6,1018.2 L1578.6,1018.3 L1580.6,1018.4 L1582.6,1018.2 L1584.6,1018.2 L1586.6,1018.1 L1588.6,1018.3 L1590.6,1018.1 L1592.6,1017.9 L1594.6,1018.1 L1596.6,1018.3 L1598.6,1018.6 L1600.6,1018.5 L1602.6,1018.6 L1604.6,1018.6 L1606.6,1018.8 L1608.6,1018.7 L1610.6,1018.8 L1612.6,1018.7 L1614.6,1018.7 L1616.6,1018.6 L1618.6,1018.7 L1620.6,1018.6 L1622.5,1018.8 L1624.5,1018.8 L1626.5,1019.0 L1628.5,1019.0 L1630.5,1018.9 L1632.5,1018.8 L1634.5,1018.9 L1636.4,1019.1 L1638.4,1019.2 L1640.4,1019.2 L1642.4,1019.3 L1644.4,1019.1 L1646.3,1019.1 L1648.3,1019.0 L1650.3,1019.3 L1652.3,1019.3 L1654.2,1019.4 L1656.2,1019.5 L1658.2,1019.4 L1660.2,1019.1 L1662.1,1019.3 L1664.1,1019.4 L1666.1,1019.8 L1668.0,1020.0 L1670.0,1019.9 L1672.0,1019.8 L1673.9,1019.8 L1675.9,1020.0 L1677.8,1020.1 L1679.8,1020.2 L1681.8,1020.1 L1683.7,1020.3 L1685.7,1020.2 L1687.6,1020.4 L1689.6,1020.5 L1691.5,1020.5 L1693.5,1020.3 L1695.4,1020.3 L1697.4,1020.4" stroke="#000000"/><path d="M324.9,1018.9 L326.8,1018.8 L328.8,1018.7 L330.8,1018.9 L332.8,1018.8 L334.8,1019.0 L336.8,1019.0 L338.8,1019.0 L340.8,1019.0 L342.8,1019.0 L344.8,1019.1 L346.8,1019.2 L348.8,1018.9 L350.8,1019.0 L352.8,1018.9 L354.8,1018.9 L356.8,1019.0 L358.8,1019.4 L360.8,1019.4 L362.8,1019.5 L364.8,1019.4 L366.8,1019.3 L368.7,1019.3 L370.7,1019.3 L372.7,1019.4 L374.7,1019.3 L376.7,1019.2 L378.7,1019.2 L380.7,1019.3 L382.7,1019.1 L384.7,1018.9 L386.7,1018.8 L388.7,1018.8 L390.7,1018.7 L392.7,1018.7 L394.7,1018.6 L396.7,1018.7 L398.7,1018.8 L400.7,1019.0 L402.7,1018.9 L404.7,1019.1 L406.7,1019.0 L408.7,1019.2 L410.6,1018.9 L412.6,1018.6 L414.6,1018.1 L416.6,1017.8 L418.6,1018.1 L420.6,1018.2 L422.6,1018.4 L424.6,1018.1 L426.6,1018.3 L428.6,1017.9 L430.6,1017.8 L432.6,1017.4 L434.6,1017.5 L436.6,1017.5 L438.6,1017.6 L440.6,1017.5 L442.6,1017.3 L444.6,1017.4 L446.6,1017.4 L448.6,1017.4 L450.6,1017.3 L452.6,1017.1 L454.5,1016.8 L456.5,1016.5 L458.5,1016.4 L460.5,1016.6 L462.5,1016.6 L464.5,1016.4 L466.5,1016.1 L468.5,1016.0 L470.5,1015.9 L472.5,1015.8 L474.5,1015.8 L476.5,1015.9 L478.5,1015.5 L480.5,1015.2 L482.5,1014.9 L484.5,1014.9 L486.5,1015.0 L488.5,1014.9 L490.5,1014.7 L492.5,1014.5 L494.5,1014.3 L496.5,1014.2 L498.5,1014.3 L500.5,1014.2 L502.4,1014.2 L504.4,1013.8 L506.4,1013.6 L508.4,1013.4 L510.4,1013.0 L512.4,1012.7 L514.4,1012.6 L516.4,1012.6 L518.4,1012.6 L520.4,1012.5 L522.4,1012.4 L524.4,1012.2 L526.4,1012.0 L528.4,1011.7 L530.4,1011.5 L532.4,1011.4 L534.4,1011.3 L536.4,1011.0 L538.4,1010.7 L540.4,1010.3 L542.4,1010.0 L544.4,1009.9 L546.4,1010.0 L548.4,1009.9 L550.3,1009.9 L552.3,1009.6 L554.3,1009.4 L556.3,1009.2 L558.3,1008.9 L560.3,1008.5 L562.3,1008.2 L564.3,1007.9 L566.3,1007.7 L568.3,1007.6 L570.3,1007.5 L572.3,1007.3 L574.3,1007.2 L576.3,1006.7 L578.3,1006.4 L580.3,1006.1 L582.3,1005.9 L584.3,1005.8 L586.3,1005.7 L588.3,1005.6 L590.3,1005.3 L592.3,1005.0 L594.3,1004.5 L596.3,1004.1 L598.3,1004.0 L600.3,1003.8 L602.2,1003.8 L604.2,1003.6 L606.2,1003.6 L608.2,1003.3 L610.2,1003.1 L612.2,1002.7 L614.2,1002.5 L616.2,1002.3 L618.2,1002.0 L620.2,1001.8 L622.2,1001.7 L624.2,1001.6 L626.2,1001.1 L628.2,1000.7 L630.2,1000.3 L632.2,1000.1 L634.2,1000.2 L636.2,1000.1 L638.2,1000.1 L640.2,1000.0 L642.2,999.8 L644.2,999.4 L646.2,999.2 L648.2,998.9 L650.2,998.7 L652.2,998.5 L654.2,998.4 L656.2,998.3 L658.1,998.1 L660.1,997.9 L662.1,997.8 L664.1,997.6 L666.1,997.4 L668.1,997.2 L670.1,997.1 L672.1,996.8 L674.1,996.4 L676.1,996.1 L678.1,995.9 L680.1,995.7 L682.1,995.6 L684.1,995.5 L686.1,995.2 L688.1,995.2 L690.1,995.2 L692.1,995.1 L694.1,994.9 L696.1,994.8 L698.1,994.4 L700.1,994.2 L702.1,994.1 L704.1,994.2 L706.1,994.3 L708.1,994.2 L710.1,993.9 L712.1,993.5 L714.1,993.4 L716.1,993.2 L718.0,993.1 L720.0,993.0 L722.0,993.1 L724.0,993.1 L726.0,993.0 L728.0,992.8 L730.0,992.5 L732.0,992.4 L734.0,992.4 L736.0,992.6 L738.0,992.6 L740.0,992.4 L742.0,992.4 L744.0,992.3 L746.0,992.3 L748.0,992.1 L750.0,991.9 L752.0,991.8 L754.0,991.5 L756.0,991.4 L758.0,991.2 L760.0,991.4 L762.0,991.4 L764.0,991.4 L766.0,991.3 L768.0,991.4 L770.0,991.2 L772.0,991.2 L774.0,991.3 L776.0,991.3 L778.0,991.0 L780.0,990.7 L782.0,990.7 L783.9,990.9 L785.9,990.9 L787.9,990.9 L789.9,990.6 L791.9,990.7 L793.9,990.6 L795.9,990.8 L797.9,990.7 L799.9,990.6 L801.9,990.3 L803.9,990.1 L805.9,990.0 L807.9,990.1 L809.9,990.3 L811.9,990.6 L813.9,990.6 L815.9,990.5 L817.9,990.2 L819.9,990.2 L821.9,990.3 L823.9,990.5 L825.9,990.5 L827.9,990.3 L829.9,990.1 L831.9,989.8 L833.9,989.9 L835.9,990.0 L837.9,990.2 L839.9,990.2 L841.9,990.2 L843.9,990.3 L845.9,990.4 L847.9,990.2 L849.9,990.1 L851.9,990.1 L853.9,990.2 L855.9,990.4 L857.9,990.5 L859.9,990.6 L861.8,990.4 L863.8,990.4 L865.8,990.4 L867.8,990.5 L869.8,990.6 L871.8,990.6 L873.8,990.7 L875.8,990.7 L877.8,990.7 L879.8,990.7 L881.8,990.8 L883.8,990.9 L885.8,991.1 L887.8,991.0 L889.8,991.0 L891.8,990.9 L893.8,990.8 L895.8,990.9 L897.8,990.9 L899.8,991.1 L901.8,991.1 L903.8,991.2 L905.8,991.3 L907.8,991.5 L909.8,991.5 L911.8,991.8 L913.8,991.8 L915.8,991.9 L917.8,992.0 L919.8,992.0 L921.8,992.0 L923.8,992.2 L925.8,992.1 L927.8,992.2 L929.8,992.2 L931.8,992.2 L933.8,992.5 L935.8,992.7 L937.8,992.9 L939.8,992.7 L941.8,992.8 L943.8,992.9 L945.8,992.9 L947.8,992.9 L949.8,993.1 L951.8,993.3 L953.8,993.5 L955.7,993.7 L957.7,993.8 L959.7,993.7 L961.7,993.7 L963.7,993.6 L965.7,993.8 L967.7,993.9 L969.7,994.0 L971.7,994.1 L973.7,994.3 L975.7,994.7 L977.7,994.9 L979.7,994.8 L981.7,994.8 L983.7,994.9 L985.7,995.1 L987.7,995.2 L989.7,995.2 L991.7,995.2 L993.7,995.3 L995.7,995.3 L997.7,995.6 L999.7,995.6 L1001.7,995.9 L1003.7,996.1 L1005.7,996.3 L1007.7,996.3 L1009.7,996.4 L1011.7,996.4 L1013.7,996.6 L1015.7,996.6 L1017.7,996.9 L1019.7,996.9 L1021.7,997.0 L1023.7,996.9 L1025.7,997.1 L1027.7,997.1 L1029.7,997.4 L1031.7,997.2 L1033.7,997.4 L1035.7,997.6 L1037.7,998.0 L1039.7,998.0 L1041.7,998.2 L1043.7,998.1 L1045.7,998.2 L1047.7,998.5 L1049.7,998.9 L1051.7,999.0 L1053.7,999.2 L1055.7,999.2 L1057.7,999.4 L1059.7,999.5 L1061.7,999.8 L1063.7,1000.1 L1065.7,1000.1 L1067.7,1000.1 L1069.7,1000.1 L1071.7,1000.2 L1073.7,1000.5 L1075.7,1000.4 L1077.7,1000.5 L1079.7,1000.8 L1081.7,1000.9 L1083.7,1001.2 L1085.7,1001.1 L1087.7,1001.4 L1089.7,1001.5 L1091.7,1001.5 L1093.7,1001.8 L1095.7,1002.0 L1097.6,1002.2 L1099.6,1002.2 L1101.6,1002.3 L1103.6,1002.6 L1105.6,1002.8 L1107.6,1002.8 L1109.6,1002.7 L1111.6,1003.1 L1113.6,1003.3 L1115.6,1003.6 L1117.6,1003.5 L1119.6,1003.6 L1121.6,1003.8 L1123.6,1004.1 L1125.6,1004.2 L1127.6,1004.0 L1129.6,1004.2 L1131.6,1004.5 L1133.6,1004.5 L1135.6,1004.6 L1137.6,1004.8 L1139.6,1004.9 L1141.6,1005.1 L1143.6,1005.2 L1145.6,1005.3 L1147.6,1005.4 L1149.6,1005.6 L1151.6,1005.7 L1153.6,1005.9 L1155.6,1006.2 L1157.6,1006.5 L1159.6,1006.6 L1161.6,1006.6 L1163.6,1006.8 L1165.6,1007.0 L1167.6,1007.3 L1169.6,1007.4 L1171.6,1007.7 L1173.6,1007.7 L1175.6,1007.6 L1177.6,1007.7 L1179.6,1007.9 L1181.6,1007.9 L1183.6,1007.8 L1185.6,1007.7 L1187.6,1007.9 L1189.6,1008.3 L1191.6,1008.6 L1193.6,1008.8 L1195.6,1008.7 L1197.6,1008.9 L1199.6,1009.0 L1201.6,1009.2 L1203.6,1009.2 L1205.6,1009.1 L1207.6,1009.1 L1209.6,1009.0 L1211.6,1009.3 L1213.6,1009.4 L1215.6,1009.9 L1217.6,1010.1 L1219.6,1010.4 L1221.6,1010.4 L1223.6,1010.4 L1225.6,1010.6 L1227.6,1010.7 L1229.6,1010.8 L1231.6,1010.9 L1233.6,1010.9 L1235.6,1011.0 L1237.6,1011.2 L1239.6,1011.4 L1241.6,1011.7 L1243.6,1011.8 L1245.6,1011.6 L1247.6,1011.5 L1249.6,1011.4 L1251.6,1011.6 L1253.6,1011.7 L1255.6,1011.8 L1257.6,1012.1 L1259.6,1012.3 L1261.6,1012.3 L1263.6,1012.4 L1265.6,1012.4 L1267.6,1012.6 L1269.6,1012.7 L1271.6,1012.9 L1273.6,1013.3 L1275.6,1013.3 L1277.6,1013.3 L1279.6,1013.2 L1281.6,1013.2 L1283.6,1013.3 L1285.6,1013.5 L1287.6,1013.6 L1289.6,1013.8 L1291.6,1014.0 L1293.6,1014.0 L1295.6,1013.7 L1297.6,1013.7 L1299.6,1013.8 L1301.6,1014.3 L1303.6,1014.4 L1305.6,1014.4 L1307.6,1014.3 L1309.6,1014.3 L1311.6,1014.4 L1313.6,1014.6 L1315.6,1014.6 L1317.6,1014.8 L1319.6,1014.9 L1321.6,1014.9 L1323.6,1014.7 L1325.6,1014.6 L1327.6,1014.9 L1329.6,1015.1 L1331.6,1015.2 L1333.6,1015.2 L1335.6,1015.3 L1337.6,1015.5 L1339.6,1015.5 L1341.6,1015.5 L1343.6,1015.5 L1345.6,1015.5 L1347.6,1015.6 L1349.6,1015.5 L1351.6,1015.6 L1353.6,1015.9 L1355.6,1016.2 L1357.6,1016.3 L1359.6,1016.4 L1361.6,1016.2 L1363.6,1016.1 L1365.6,1016.0 L1367.6,1016.3 L1369.6,1016.6 L1371.6,1016.7 L1373.6,1016.8 L1375.7,1016.7 L1377.7,1016.7 L1379.7,1016.7 L1381.7,1016.8 L1383.7,1016.9 L1385.7,1017.0 L1387.7,1017.0 L1389.7,1016.9 L1391.7,1016.8 L1393.7,1016.8 L1395.7,1016.8 L1397.7,1017.0 L1399.7,1016.9 L1401.7,1017.2 L1403.7,1017.4 L1405.7,1017.3 L1407.7,1017.2 L1409.7,1017.3 L1411.7,1017.5 L1413.7,1017.5 L1415.7,1017.6 L1417.7,1017.6 L1419.7,1017.8 L1421.7,1018.0 L1423.7,1017.8 L1425.7,1017.7 L1427.7,1017.6 L1429.7,1017.8 L1431.7,1017.9 L1433.7,1017.9 L1435.7,1017.8 L1437.7,1017.7 L1439.7,1017.8 L1441.7,1017.8 L1443.7,1017.8 L1445.7,1017.6 L1447.7,1017.7 L1449.7,1017.8 L1451.7,1017.9 L1453.7,1017.9 L1455.7,1018.0 L1457.7,1018.0 L1459.7,1017.9 L1461.7,1018.0 L1463.7,1018.0 L1465.7,1018.1 L1467.7,1017.9 L1469.7,1018.0 L1471.7,1018.0 L1473.7,1018.2 L1475.7,1018.4 L1477.7,1018.4 L1479.7,1018.5 L1481.7,1018.5 L1483.7,1018.9 L1485.7,1018.9 L1487.7,1018.8 L1489.7,1018.5 L1491.7,1018.5 L1493.7,1018.7 L1495.7,1018.7 L1497.7,1018.7 L1499.7,1018.7 L1501.7,1018.6 L1503.7,1018.8 L1505.7,1018.8 L1507.8,1018.9 L1509.8,1018.8 L1511.8,1018.9 L1513.8,1018.9 L1515.8,1019.2 L1517.8,1019.3 L1519.8,1019.3 L1521.8,1019.1 L1523.8,1019.0 L1525.8,1018.7 L1527.8,1019.0 L1529.8,1019.0 L1531.8,1019.0 L1533.8,1018.9 L1535.8,1018.9 L1537.8,1019.0 L1539.8,1019.2 L1541.8,1019.3 L1543.8,1019.2 L1545.8,1019.2 L1547.8,1019.4 L1549.8,1019.4 L1551.8,1019.6 L1553.8,1019.4 L1555.8,1019.4 L1557.8,1019.5 L1559.8,1019.6 L1561.8,1019.4 L1563.8,1019.6 L1565.8,1019.5 L1567.8,1019.6 L1569.8,1019.4 L1571.8,1019.3 L1573.8,1019.6 L1575.8,1019.9 L1577.8,1020.1 L1579.8,1020.1 L1581.8,1019.8 L1583.8,1019.6 L1585.8,1019.5 L1587.8,1019.4 L1589.8,1019.3 L1591.9,1019.3 L1593.9,1019.2 L1595.9,1019.6 L1597.9,1019.8 L1599.9,1020.2 L1601.9,1020.0 L1603.9,1019.8 L1605.9,1019.7 L1607.9,1019.5 L1609.9,1019.5 L1611.9,1019.6 L1613.9,1019.9 L1615.9,1019.9 L1617.9,1019.8 L1619.9,1019.9 L1621.9,1020.1 L1623.9,1020.1 L1625.9,1020.0 L1627.9,1019.8 L1629.9,1019.9 L1631.9,1020.0 L1633.9,1020.1 L1635.9,1020.0 L1637.9,1019.9 L1639.9,1020.1 L1641.9,1020.1 L1643.9,1020.3 L1645.9,1020.4 L1647.9,1020.6 L1649.9,1020.7 L1651.9,1020.5 L1653.9,1020.4 L1655.9,1020.2 L1658.0,1020.3 L1660.0,1020.5 L1662.0,1020.8 L1664.0,1020.9 L1666.0,1021.0 L1668.0,1020.8 L1670.0,1020.7 L1672.0,1020.7 L1674.0,1020.5 L1676.0,1020.5 L1678.0,1020.4 L1680.0,1020.6 L1682.0,1020.4 L1684.0,1020.6 L1686.0,1020.5 L1688.0,1020.7 L1690.0,1020.6 L1692.0,1020.7 L1694.0,1020.5 L1696.0,1020.7 L1698.0,1020.9" stroke="#0000ff" stroke-width="4.8"/><path d="M324.4,1017.7 L326.4,1017.7 L328.5,1017.5 L330.5,1017.6 L332.6,1017.6 L334.6,1017.5 L336.6,1017.4 L338.6,1017.3 L340.6,1017.0 L342.6,1016.8 L344.6,1016.4 L346.6,1016.2 L348.6,1015.6 L350.6,1015.3 L352.6,1014.8 L354.6,1014.3 L356.5,1013.7 L358.5,1013.2 L360.4,1012.8 L362.4,1012.4 L364.3,1012.0 L366.2,1011.4 L368.1,1011.1 L370.0,1010.4 L371.9,1009.7 L373.8,1008.8 L375.7,1008.1 L377.6,1007.4 L379.4,1006.8 L381.3,1006.1 L383.1,1005.3 L385.0,1004.4 L386.8,1003.6 L388.6,1002.9 L390.4,1002.3 L392.2,1001.6 L394.0,1000.6 L395.8,999.4 L397.6,998.1 L399.3,997.2 L401.1,996.2 L402.8,995.5 L404.5,994.5 L406.2,993.5 L407.9,992.5 L409.6,991.5 L411.3,990.5 L413.0,989.2 L414.6,988.0 L416.3,986.8 L417.9,985.7 L419.5,984.4 L421.1,983.1 L422.7,981.8 L424.3,980.8 L425.9,979.8 L427.4,978.8 L428.9,977.3 L430.5,976.0 L432.0,974.6 L433.5,973.1 L435.0,971.8 L436.4,970.5 L437.9,969.1 L439.3,967.9 L440.8,966.3 L442.2,965.0 L443.6,963.6 L445.0,962.1 L446.3,960.8 L447.7,959.4 L449.0,957.9 L450.3,956.4 L451.6,954.8 L452.9,953.2 L454.2,952.1 L455.5,950.8 L456.7,949.1 L457.9,947.3 L459.2,945.4 L460.4,943.8 L461.6,942.1 L462.8,940.6 L463.9,939.2 L465.1,937.4 L466.2,935.7 L467.4,933.9 L468.5,932.4 L469.6,930.8 L470.7,929.2 L471.8,927.6 L472.9,926.1 L473.9,924.1 L475.0,922.4 L476.1,920.9 L477.1,919.7 L478.2,918.2 L479.2,916.2 L480.2,914.2 L481.2,912.3 L482.2,910.8 L483.2,909.1 L484.2,907.8 L485.2,906.1 L486.2,904.2 L487.2,902.5 L488.1,900.7 L489.1,899.0 L490.1,896.8 L491.0,895.1 L492.0,893.0 L492.9,891.2 L493.8,889.4 L494.8,887.5 L495.7,885.4 L496.7,883.6 L497.6,882.3 L498.5,881.3 L499.4,880.0 L500.4,878.0 L501.3,876.0 L502.2,873.7 L503.1,871.8 L504.0,869.8 L504.9,867.7 L505.8,865.9 L506.8,864.2 L507.7,862.5 L508.6,860.7 L509.5,859.2 L510.4,857.5 L511.3,856.0 L512.1,854.0 L513.0,852.1 L513.9,850.2 L514.8,848.2 L515.7,846.4 L516.6,844.8 L517.5,843.5 L518.3,841.8 L519.2,839.8 L520.1,837.1 L521.0,835.4 L521.8,833.6 L522.7,832.0 L523.6,830.2 L524.4,828.5 L525.3,826.9 L526.2,825.1 L527.0,823.2 L527.9,821.9 L528.8,820.2 L529.6,818.0 L530.5,816.3 L531.3,814.1 L532.2,812.6 L533.0,810.3 L533.9,808.2 L534.7,806.3 L535.6,804.5 L536.4,803.1 L537.3,801.4 L538.1,799.0 L539.0,796.5 L539.8,793.6 L540.7,792.6 L541.5,791.0 L542.3,790.5 L543.2,789.1 L544.0,787.2 L544.9,785.0 L545.7,782.9 L546.5,781.0 L547.4,778.9 L548.2,777.2 L549.0,775.5 L549.9,774.6 L550.7,772.8 L551.5,771.2 L552.4,768.8 L553.2,767.0 L554.0,765.2 L554.9,763.8 L555.7,762.0 L556.5,759.8 L557.4,757.6 L558.2,755.8 L559.0,754.7 L559.9,752.7 L560.7,751.1 L561.5,749.9 L562.4,748.1 L563.2,746.2 L564.0,744.1 L564.9,743.1 L565.7,740.7 L566.5,738.4 L567.4,735.6 L568.2,733.1 L569.0,731.4 L569.9,730.4 L570.7,728.7 L571.6,726.5 L572.4,724.0 L573.3,721.8 L574.1,720.5 L574.9,719.1 L575.8,718.8 L576.7,717.9 L577.5,716.8 L578.4,713.9 L579.2,710.4 L580.1,707.3 L580.9,704.6 L581.8,704.0 L582.7,703.2 L583.6,702.6 L584.4,700.9 L585.3,699.1 L586.2,697.3 L587.1,695.5 L587.9,693.6 L588.8,690.7 L589.7,688.8 L590.6,687.1 L591.5,686.8 L592.4,685.1 L593.3,683.0 L594.2,680.2 L595.1,678.5 L596.1,676.6 L597.0,675.2 L597.9,673.3 L598.8,671.9 L599.8,670.0 L600.7,668.6 L601.6,666.5 L602.6,664.5 L603.5,662.6 L604.5,660.9 L605.4,659.6 L606.4,657.6 L607.4,655.6 L608.3,653.5 L609.3,651.4 L610.3,650.3 L611.3,648.5 L612.3,647.2 L613.3,645.0 L614.3,642.5 L615.3,640.6 L616.4,638.9 L617.4,637.4 L618.4,635.9 L619.5,635.0 L620.6,633.3 L621.6,631.8 L622.7,629.7 L623.8,628.1 L624.9,626.2 L626.0,624.9 L627.1,623.4 L628.3,621.5 L629.4,619.5 L630.6,617.6 L631.7,616.4 L632.9,614.9 L634.1,613.2 L635.3,611.9 L636.5,611.0 L637.7,610.1 L639.0,607.8 L640.2,605.7 L641.5,603.4 L642.8,600.9 L644.1,600.1 L645.4,598.9 L646.7,598.2 L648.0,596.1 L649.4,594.4 L650.7,592.8 L652.1,591.5 L653.5,589.8 L654.9,588.3 L656.4,586.7 L657.8,586.1 L659.3,585.7 L660.8,585.1 L662.3,583.5 L663.8,582.0 L665.3,581.0 L666.9,579.9 L668.4,578.8 L670.0,577.1 L671.6,575.2 L673.3,573.8 L674.9,572.6 L676.6,571.4 L678.3,569.8 L680.0,568.0 L681.7,566.1 L683.4,565.3 L685.2,564.4 L686.9,564.3 L688.7,563.6 L690.5,562.8 L692.3,562.8 L694.1,562.6 L695.9,562.3 L697.7,561.9 L699.5,561.1 L701.3,559.6 L703.2,559.2 L705.0,558.6 L706.9,558.2 L708.7,557.5 L710.6,556.2 L712.5,555.5 L714.3,555.0 L716.2,554.7 L718.0,554.6 L719.9,554.3 L721.8,554.6 L723.6,555.4 L725.5,555.5 L727.3,555.5 L729.2,554.8 L731.0,555.4 L732.9,556.0 L734.7,557.2 L736.5,557.9 L738.4,559.1 L740.2,559.7 L742.0,560.5 L743.8,561.3 L745.6,562.5 L747.3,563.4 L749.1,564.9 L750.9,565.7 L752.6,566.7 L754.4,567.7 L756.1,569.2 L757.9,570.6 L759.6,571.8 L761.3,572.7 L763.0,573.9 L764.7,574.7 L766.3,575.6 L768.0,576.1 L769.6,576.5 L771.3,578.3 L772.9,579.1 L774.5,579.7 L776.1,581.1 L777.7,582.6 L779.2,584.6 L780.8,585.3 L782.3,585.7 L783.8,587.4 L785.3,588.7 L786.8,590.3 L788.3,590.4 L789.7,591.1 L791.2,593.0 L792.6,594.4 L794.0,595.9 L795.4,597.2 L796.8,599.5 L798.2,601.6 L799.6,602.4 L800.9,604.8 L802.3,606.3 L803.7,608.8 L805.0,609.9 L806.4,611.2 L807.7,612.7 L809.1,614.0 L810.4,615.1 L811.8,616.5 L813.1,617.7 L814.5,619.0 L815.9,621.5 L817.2,622.5 L818.6,623.7 L820.0,624.7 L821.3,625.4 L822.7,626.8 L824.1,628.6 L825.5,630.6 L826.9,632.5 L828.3,634.3 L829.6,635.5 L831.0,636.9 L832.4,638.0 L833.8,638.8 L835.2,640.4 L836.5,641.7 L837.9,643.9 L839.3,645.0 L840.6,646.1 L842.0,646.8 L843.3,648.5 L844.7,650.0 L846.0,651.9 L847.4,653.2 L848.7,654.7 L850.0,656.6 L851.4,658.2 L852.7,659.4 L854.0,661.0 L855.3,662.0 L856.6,663.3 L857.9,664.6 L859.2,665.9 L860.5,667.7 L861.8,669.8 L863.1,672.2 L864.4,674.0 L865.7,675.1 L867.0,676.7 L868.3,677.8 L869.6,679.4 L870.9,681.3 L872.1,683.0 L873.4,684.8 L874.7,685.6 L876.0,686.4 L877.2,688.2 L878.5,688.9 L879.8,690.2 L881.0,691.1 L882.3,694.2 L883.6,696.5 L884.8,698.7 L886.1,700.3 L887.4,702.0 L888.6,702.8 L889.9,704.1 L891.1,705.1 L892.4,706.8 L893.6,708.7 L894.9,710.1 L896.2,711.0 L897.4,712.8 L898.7,714.2 L899.9,715.8 L901.2,717.4 L902.5,718.5 L903.7,719.8 L905.0,721.6 L906.2,724.1 L907.5,725.2 L908.8,727.4 L910.0,728.9 L911.3,730.4 L912.6,731.3 L913.8,733.1 L915.1,734.8 L916.4,736.5 L917.7,737.6 L918.9,739.2 L920.2,741.6 L921.5,743.4 L922.8,744.7 L924.0,745.7 L925.3,747.4 L926.6,748.8 L927.9,750.4 L929.2,751.2 L930.5,752.8 L931.8,754.2 L933.1,755.6 L934.4,757.4 L935.7,759.1 L936.9,760.4 L938.2,761.9 L939.5,763.0 L940.8,765.0 L942.1,767.0 L943.5,768.6 L944.8,769.9 L946.1,770.4 L947.4,771.7 L948.7,774.1 L950.0,776.5 L951.3,778.6 L952.6,779.5 L953.9,780.2 L955.3,781.5 L956.6,782.7 L957.9,784.4 L959.2,787.2 L960.6,788.5 L961.9,790.3 L963.2,791.6 L964.5,793.5 L965.9,794.4 L967.2,795.5 L968.5,796.1 L969.9,797.7 L971.2,800.1 L972.5,802.1 L973.9,803.3 L975.2,804.3 L976.6,805.6 L977.9,807.0 L979.3,809.2 L980.6,810.6 L982.0,812.1 L983.3,813.5 L984.7,815.1 L986.0,816.3 L987.4,817.6 L988.8,818.7 L990.1,820.6 L991.5,822.4 L992.9,823.4 L994.2,824.9 L995.6,826.5 L997.0,828.0 L998.4,829.1 L999.8,829.8 L1001.1,831.3 L1002.5,832.4 L1003.9,834.1 L1005.3,836.0 L1006.7,837.9 L1008.1,840.0 L1009.5,842.0 L1010.9,842.8 L1012.3,843.6 L1013.7,844.1 L1015.2,845.2 L1016.6,846.4 L1018.0,847.9 L1019.4,849.2 L1020.8,850.8 L1022.3,852.1 L1023.7,853.3 L1025.1,854.5 L1026.6,856.1 L1028.0,858.1 L1029.5,859.9 L1030.9,861.6 L1032.4,862.9 L1033.8,863.8 L1035.3,865.2 L1036.8,866.4 L1038.2,868.5 L1039.7,869.5 L1041.2,870.4 L1042.7,871.1 L1044.1,872.4 L1045.6,873.5 L1047.1,875.1 L1048.6,876.8 L1050.1,878.2 L1051.6,879.5 L1053.1,880.9 L1054.6,881.9 L1056.2,883.3 L1057.7,884.4 L1059.2,885.7 L1060.7,887.3 L1062.3,888.6 L1063.8,890.5 L1065.3,891.5 L1066.9,893.1 L1068.4,893.7 L1070.0,895.0 L1071.6,895.8 L1073.1,897.2 L1074.7,898.7 L1076.3,900.2 L1077.8,901.3 L1079.4,902.7 L1081.0,903.8 L1082.6,905.2 L1084.2,906.4 L1085.8,907.6 L1087.4,908.6 L1089.0,910.2 L1090.7,911.2 L1092.3,912.1 L1093.9,912.9 L1095.5,913.9 L1097.2,915.2 L1098.8,916.6 L1100.5,917.7 L1102.1,918.9 L1103.8,920.1 L1105.4,921.5 L1107.1,922.5 L1108.8,923.6 L1110.5,924.9 L1112.1,925.9 L1113.8,926.7 L1115.5,927.5 L1117.2,928.3 L1118.9,929.4 L1120.6,930.6 L1122.3,931.9 L1124.0,933.1 L1125.7,934.2 L1127.4,935.1 L1129.2,935.9 L1130.9,936.6 L1132.6,937.3 L1134.4,938.4 L1136.1,939.5 L1137.8,940.5 L1139.6,941.5 L1141.3,942.4 L1143.1,943.4 L1144.8,944.5 L1146.6,945.5 L1148.4,946.4 L1150.1,947.4 L1151.9,948.2 L1153.7,949.2 L1155.5,950.2 L1157.3,951.3 L1159.0,952.2 L1160.8,953.2 L1162.6,954.1 L1164.4,955.0 L1166.2,955.7 L1168.0,956.6 L1169.8,957.3 L1171.6,958.1 L1173.5,958.9 L1175.3,959.8 L1177.1,960.7 L1178.9,961.5 L1180.7,962.4 L1182.6,963.0 L1184.4,963.8 L1186.2,964.8 L1188.1,965.7 L1189.9,966.5 L1191.8,967.2 L1193.6,968.2 L1195.5,968.9 L1197.3,969.7 L1199.2,970.2 L1201.0,971.0 L1202.9,971.6 L1204.7,972.3 L1206.6,973.1 L1208.5,974.0 L1210.4,974.7 L1212.2,975.5 L1214.1,976.4 L1216.0,977.1 L1217.9,977.8 L1219.7,978.3 L1221.6,979.0 L1223.5,979.7 L1225.4,980.3 L1227.3,981.0 L1229.2,981.8 L1231.1,982.4 L1233.0,982.7 L1234.9,983.1 L1236.8,983.7 L1238.7,984.5 L1240.6,985.4 L1242.5,986.1 L1244.4,986.6 L1246.3,987.1 L1248.2,987.7 L1250.1,988.2 L1252.1,988.9 L1254.0,989.6 L1255.9,990.4 L1257.8,990.8 L1259.7,991.1 L1261.7,991.3 L1263.6,991.8 L1265.5,992.2 L1267.5,992.8 L1269.4,993.4 L1271.3,994.0 L1273.3,994.4 L1275.2,994.7 L1277.1,995.0 L1279.1,995.5 L1281.0,996.1 L1282.9,996.7 L1284.9,997.2 L1286.8,997.6 L1288.8,998.1 L1290.7,998.3 L1292.7,998.5 L1294.6,998.6 L1296.6,999.1 L1298.5,999.8 L1300.5,1000.3 L1302.4,1000.6 L1304.4,1000.9 L1306.3,1001.0 L1308.3,1001.3 L1310.3,1001.6 L1312.2,1002.1 L1314.2,1002.4 L1316.1,1002.6 L1318.1,1002.9 L1320.1,1003.2 L1322.0,1003.5 L1324.0,1003.8 L1326.0,1004.2 L1327.9,1004.4 L1329.9,1004.7 L1331.9,1005.1 L1333.8,1005.3 L1335.8,1005.4 L1337.8,1005.5 L1339.8,1005.4 L1341.7,1005.6 L1343.7,1005.7 L1345.7,1006.2 L1347.7,1006.3 L1349.7,1006.7 L1351.6,1006.8 L1353.6,1007.0 L1355.6,1007.3 L1357.6,1007.7 L1359.6,1008.0 L1361.6,1008.3 L1363.5,1008.4 L1365.5,1008.5 L1367.5,1008.5 L1369.5,1008.7 L1371.5,1008.8 L1373.5,1009.0 L1375.5,1009.1 L1377.5,1009.3 L1379.5,1009.5 L1381.5,1009.7 L1383.4,1009.7 L1385.4,1009.8 L1387.4,1010.0 L1389.4,1010.0 L1391.4,1010.2 L1393.4,1010.5 L1395.4,1010.4 L1397.4,1010.6 L1399.4,1010.9 L1401.4,1011.0 L1403.4,1011.4 L1405.4,1011.3 L1407.4,1011.8 L1409.4,1012.0 L1411.4,1012.1 L1413.4,1012.0 L1415.4,1012.1 L1417.5,1012.1 L1419.5,1012.3 L1421.5,1012.3 L1423.5,1012.5 L1425.5,1012.7 L1427.5,1012.7 L1429.5,1012.8 L1431.5,1012.9 L1433.5,1013.1 L1435.5,1013.3 L1437.5,1013.4 L1439.5,1013.3 L1441.5,1013.4 L1443.6,1013.5 L1445.6,1013.6 L1447.6,1013.8 L1449.6,1013.9 L1451.6,1014.2 L1453.6,1014.2 L1455.6,1014.5 L1457.6,1014.5 L1459.7,1014.6 L1461.7,1014.5 L1463.7,1014.6 L1465.7,1014.7 L1467.7,1015.0 L1469.7,1015.3 L1471.7,1015.6 L1473.7,1015.6 L1475.8,1015.5 L1477.8,1015.4 L1479.8,1015.5 L1481.8,1015.7 L1483.8,1015.9 L1485.8,1015.8 L1487.9,1015.7 L1489.9,1015.8 L1491.9,1016.0 L1493.9,1016.1 L1495.9,1016.2 L1497.9,1016.3 L1499.9,1016.2 L1502.0,1016.1 L1504.0,1016.1 L1506.0,1016.1 L1508.0,1016.3 L1510.0,1016.3 L1512.0,1016.4 L1514.1,1016.5 L1516.1,1016.8 L1518.1,1016.8 L1520.1,1016.8 L1522.1,1016.6 L1524.1,1016.7 L1526.1,1016.8 L1528.2,1017.1 L1530.2,1017.3 L1532.2,1017.4 L1534.2,1017.7 L1536.2,1017.6 L1538.2,1017.6 L1540.2,1017.6 L1542.3,1017.6 L1544.3,1017.7 L1546.3,1017.8 L1548.3,1017.7 L1550.3,1017.9 L1552.3,1017.9 L1554.3,1018.0 L1556.3,1017.9 L1558.3,1017.8 L1560.4,1017.8 L1562.4,1018.1 L1564.4,1018.1 L1566.4,1018.0 L1568.4,1018.0 L1570.4,1017.9 L1572.4,1017.7 L1574.4,1017.6 L1576.4,1017.8 L1578.4,1018.2 L1580.4,1018.3 L1582.4,1018.4 L1584.4,1018.4 L1586.5,1018.4 L1588.5,1018.2 L1590.5,1018.3 L1592.5,1018.3 L1594.5,1018.3 L1596.5,1018.5 L1598.5,1018.5 L1600.5,1018.6 L1602.5,1018.6 L1604.5,1018.8 L1606.5,1018.9 L1608.5,1018.8 L1610.5,1018.7 L1612.5,1018.9 L1614.4,1019.0 L1616.4,1019.1 L1618.4,1019.0 L1620.4,1019.1 L1622.4,1018.9 L1624.4,1018.9 L1626.4,1019.0 L1628.4,1019.2 L1630.4,1019.4 L1632.4,1019.5 L1634.4,1019.5 L1636.4,1019.6 L1638.3,1019.5 L1640.3,1019.4 L1642.3,1019.2 L1644.3,1019.2 L1646.3,1019.4 L1648.3,1019.3 L1650.2,1019.4 L1652.2,1019.5 L1654.2,1019.6 L1656.2,1019.6 L1658.2,1019.7 L1660.1,1019.6 L1662.1,1019.9 L1664.1,1020.1 L1666.0,1020.1 L1668.0,1020.1 L1670.0,1020.1 L1672.0,1020.2 L1673.9,1019.9 L1675.9,1020.0 L1677.9,1020.0 L1679.8,1020.2 L1681.8,1020.2 L1683.8,1020.2 L1685.7,1020.1 L1687.7,1020.1 L1689.6,1020.1 L1691.6,1020.1 L1693.6,1020.1 L1695.5,1020.2 L1697.5,1020.2" stroke="#009191" stroke-width="5"/></g>
<path d="M716.0,182.0V278.8" stroke="#111" stroke-width="3.4" fill="none"/><path d="M716.0,304.8L707.8,276.8Q716.0,279.8 724.2,276.8Z" fill="#111"/>
<path d="M716.0,489.0V382.0" stroke="#111" stroke-width="3.4" fill="none"/><path d="M716.0,356.0L707.8,384.0Q716.0,381.0 724.2,384.0Z" fill="#111"/>
<path d="M718.0,555.5V733.0" stroke="#111" stroke-width="3.4" fill="none"/><path d="M718.0,759.0L709.8,731.0Q718.0,734.0 726.2,731.0Z" fill="#111"/>
<path d="M720.4,992.0V842.3" stroke="#111" stroke-width="3.4" fill="none"/><path d="M720.4,816.3L712.2,844.3Q720.4,841.3 728.6,844.3Z" fill="#111"/>
<g font-family="Liberation Serif, serif" font-weight="bold" font-size="54"><text x="736" y="166.5" fill="#ff0000">b</text><text x="735.7" y="473.8" fill="#000">a</text><text x="732.7" y="625.2" fill="#009191">d</text><text x="747.5" y="978.5" fill="#000">c</text><text transform="translate(660,353.3) scale(1,1.035)" fill="#000">157%</text><text transform="translate(652.4,809.2) scale(1,1.04)" fill="#000">1351%</text></g>
</g>
</svg>
</body></html>
